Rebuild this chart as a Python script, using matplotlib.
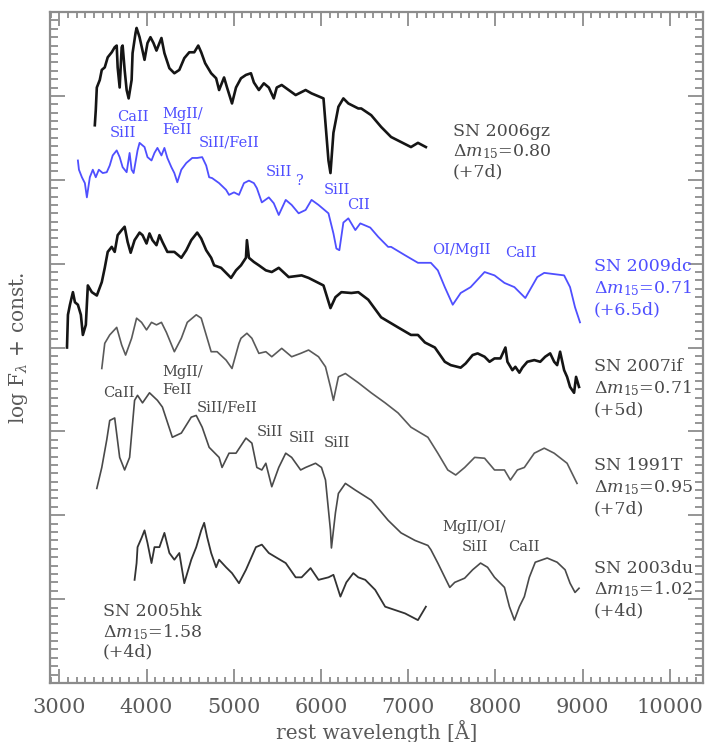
import numpy as np
import matplotlib
matplotlib.use("Agg")
from matplotlib import pyplot as plt
from matplotlib.ticker import MultipleLocator

plt.rcParams["font.family"] = ["DejaVu Serif"]
plt.rcParams["mathtext.fontset"] = "dejavuserif"

# rest wavelength [A] and log F + offset for each spectrum
wl_06gz = [3407, 3418, 3430, 3464, 3487, 3521, 3555, 3601, 3635, 3658, 3669, 3692, 3715, 3726,
           3749, 3772, 3795, 3829, 3840, 3874, 3886, 3920, 3954, 3977, 4011, 4045, 4080, 4114,
           4148, 4171, 4205, 4262, 4319, 4376, 4433, 4490, 4547, 4593, 4627, 4672, 4741, 4798,
           4832, 4889, 4923, 4980, 5026, 5083, 5140, 5197, 5231, 5288, 5345, 5402, 5459, 5493,
           5550, 5630, 5710, 5824, 5892, 6029, 6086, 6109, 6143, 6200, 6257, 6314, 6428, 6462,
           6576, 6690, 6804, 6918, 7032, 7112, 7203]
fl_06gz = [6.65, 6.83, 7.10, 7.19, 7.31, 7.34, 7.46, 7.52, 7.58, 7.60, 7.34, 7.10, 7.58, 7.60,
           7.31, 7.07, 6.97, 7.19, 7.51, 7.75, 7.81, 7.70, 7.54, 7.43, 7.63, 7.70, 7.63, 7.54,
           7.63, 7.69, 7.51, 7.33, 7.27, 7.31, 7.45, 7.52, 7.52, 7.60, 7.52, 7.39, 7.27, 7.21,
           7.07, 7.22, 7.10, 6.91, 7.10, 7.21, 7.25, 7.27, 7.16, 7.07, 7.15, 7.10, 6.97, 7.10,
           7.13, 7.07, 7.01, 7.07, 7.03, 6.97, 6.23, 6.08, 6.56, 6.87, 6.97, 6.91, 6.85, 6.85,
           6.77, 6.63, 6.51, 6.45, 6.39, 6.44, 6.39]

wl_09dc = [3213, 3225, 3259, 3293, 3316, 3350, 3384, 3418, 3453, 3498, 3544, 3578, 3612, 3658,
           3692, 3726, 3772, 3806, 3829, 3852, 3897, 3920, 3977, 4011, 4057, 4091, 4125, 4171,
           4205, 4239, 4285, 4319, 4353, 4399, 4456, 4524, 4581, 4638, 4684, 4718, 4752, 4832,
           4912, 4946, 5003, 5060, 5117, 5174, 5231, 5265, 5322, 5402, 5459, 5516, 5596, 5664,
           5744, 5824, 5892, 5972, 6086, 6143, 6177, 6211, 6257, 6314, 6394, 6451, 6565, 6656,
           6770, 6804, 6964, 7112, 7260, 7340, 7420, 7511, 7602, 7716, 7876, 7990, 8104, 8218,
           8343, 8480, 8560, 8788, 8856, 8913, 8970]
fl_09dc = [6.23, 6.12, 6.03, 5.96, 5.79, 6.03, 6.12, 6.03, 6.12, 6.08, 6.09, 6.17, 6.29, 6.35,
           6.27, 6.15, 6.09, 6.32, 6.12, 6.08, 6.35, 6.44, 6.39, 6.27, 6.23, 6.32, 6.38, 6.29,
           6.38, 6.26, 6.15, 6.08, 5.97, 6.12, 6.20, 6.26, 6.26, 6.27, 6.17, 6.03, 6.02, 5.96,
           5.88, 5.82, 5.85, 5.82, 5.96, 5.99, 5.96, 5.90, 5.73, 5.79, 5.72, 5.58, 5.76, 5.70,
           5.60, 5.64, 5.76, 5.70, 5.60, 5.36, 5.18, 5.16, 5.49, 5.54, 5.40, 5.48, 5.43, 5.32,
           5.20, 5.20, 5.10, 5.01, 5.01, 4.92, 4.72, 4.51, 4.65, 4.72, 4.90, 4.86, 4.77, 4.72,
           4.59, 4.84, 4.89, 4.86, 4.72, 4.48, 4.30]

wl_07if = [3088, 3099, 3122, 3156, 3179, 3213, 3247, 3270, 3304, 3327, 3373, 3430, 3487, 3521,
           3555, 3601, 3635, 3669, 3715, 3749, 3783, 3818, 3863, 3920, 3954, 4000, 4034, 4068,
           4114, 4148, 4182, 4239, 4319, 4399, 4456, 4513, 4581, 4627, 4684, 4741, 4775, 4855,
           4912, 4969, 5026, 5083, 5140, 5151, 5174, 5231, 5288, 5368, 5436, 5516, 5630, 5778,
           5858, 6029, 6109, 6166, 6234, 6348, 6428, 6542, 6690, 6884, 7032, 7112, 7192, 7306,
           7420, 7488, 7602, 7659, 7739, 7796, 7876, 7933, 7990, 8058, 8115, 8138, 8195, 8229,
           8275, 8309, 8366, 8446, 8514, 8571, 8628, 8674, 8708, 8742, 8788, 8822, 8856, 8902,
           8925, 8959]
fl_07if = [4.00, 4.39, 4.51, 4.66, 4.54, 4.51, 4.39, 4.15, 4.27, 4.74, 4.66, 4.62, 4.78, 4.95,
           5.14, 5.20, 5.14, 5.34, 5.40, 5.44, 5.26, 5.13, 5.28, 5.37, 5.34, 5.24, 5.36, 5.28,
           5.22, 5.34, 5.26, 5.14, 5.14, 5.07, 5.16, 5.28, 5.37, 5.30, 5.16, 5.07, 4.98, 4.95,
           4.89, 4.83, 4.92, 4.98, 5.07, 5.28, 5.07, 5.02, 4.98, 4.92, 4.90, 4.95, 4.84, 4.86,
           4.83, 4.74, 4.47, 4.60, 4.66, 4.65, 4.66, 4.57, 4.36, 4.24, 4.15, 4.15, 4.06, 4.00,
           3.83, 3.79, 3.76, 3.81, 3.91, 3.93, 3.89, 3.83, 3.87, 3.87, 4.00, 3.83, 3.73, 3.77,
           3.70, 3.76, 3.83, 3.85, 3.83, 3.89, 3.93, 3.83, 3.79, 3.95, 3.73, 3.65, 3.53, 3.46,
           3.65, 3.53]

wl_91T = [3487, 3521, 3578, 3658, 3715, 3760, 3829, 3886, 3943, 4000, 4057, 4114, 4171, 4228,
          4319, 4399, 4467, 4570, 4627, 4684, 4741, 4809, 4912, 4980, 5060, 5083, 5151, 5208,
          5288, 5368, 5436, 5550, 5664, 5767, 5858, 5972, 6052, 6109, 6143, 6200, 6280, 6428,
          6576, 6736, 6884, 7032, 7226, 7340, 7454, 7545, 7648, 7762, 7876, 7990, 8104, 8172,
          8252, 8332, 8446, 8560, 8674, 8822, 8936]
fl_91T = [3.75, 4.05, 4.15, 4.24, 4.03, 3.91, 4.11, 4.35, 4.30, 4.21, 4.30, 4.27, 4.30, 4.18,
          3.95, 4.11, 4.30, 4.39, 4.35, 4.15, 3.95, 3.95, 3.85, 3.75, 4.05, 4.11, 4.17, 4.11,
          3.93, 3.95, 3.89, 3.99, 3.89, 3.93, 3.97, 3.89, 3.77, 3.53, 3.37, 3.65, 3.69, 3.58,
          3.46, 3.34, 3.22, 3.05, 2.93, 2.74, 2.54, 2.48, 2.57, 2.69, 2.68, 2.54, 2.54, 2.42,
          2.54, 2.57, 2.74, 2.80, 2.74, 2.62, 2.38]

wl_03du = [3430, 3487, 3544, 3578, 3635, 3692, 3749, 3806, 3863, 3897, 3954, 4034, 4125, 4182,
           4296, 4399, 4513, 4570, 4638, 4718, 4832, 4866, 4946, 5026, 5140, 5208, 5265, 5322,
           5368, 5436, 5516, 5596, 5664, 5767, 5824, 5938, 6006, 6052, 6109, 6120, 6166, 6200,
           6280, 6394, 6576, 6770, 6918, 7078, 7226, 7260, 7340, 7420, 7477, 7534, 7648, 7739,
           7830, 7910, 7990, 8104, 8161, 8218, 8275, 8332, 8389, 8457, 8594, 8708, 8799, 8856,
           8913, 8959]
fl_03du = [2.32, 2.57, 2.90, 3.13, 3.16, 2.69, 2.54, 2.69, 3.37, 3.43, 3.34, 3.46, 3.37, 3.29,
           2.93, 2.98, 3.17, 3.19, 3.05, 2.81, 2.69, 2.57, 2.74, 2.74, 2.92, 2.86, 2.57, 2.54,
           2.62, 2.34, 2.57, 2.74, 2.69, 2.54, 2.57, 2.62, 2.57, 2.42, 1.82, 1.61, 2.03, 2.26,
           2.38, 2.30, 2.18, 1.94, 1.79, 1.70, 1.64, 1.59, 1.43, 1.26, 1.14, 1.20, 1.25, 1.35,
           1.43, 1.38, 1.26, 1.14, 0.91, 0.75, 0.91, 1.03, 1.26, 1.44, 1.49, 1.44, 1.35, 1.19,
           1.08, 1.13]

wl_05hk = [3863, 3886, 3897, 3943, 3977, 4011, 4057, 4091, 4148, 4205, 4262, 4319, 4376, 4433,
           4467, 4513, 4570, 4627, 4661, 4695, 4741, 4798, 4832, 4912, 4980, 5060, 5140, 5254,
           5322, 5402, 5482, 5596, 5710, 5778, 5881, 5972, 6086, 6143, 6223, 6291, 6371, 6428,
           6508, 6622, 6736, 6850, 6964, 7112, 7203]
fl_05hk = [1.23, 1.43, 1.62, 1.73, 1.82, 1.67, 1.43, 1.62, 1.62, 1.79, 1.55, 1.47, 1.55, 1.19,
           1.31, 1.47, 1.62, 1.82, 1.91, 1.74, 1.55, 1.38, 1.47, 1.38, 1.31, 1.19, 1.35, 1.62,
           1.65, 1.55, 1.50, 1.43, 1.26, 1.26, 1.37, 1.23, 1.26, 1.29, 1.03, 1.20, 1.31, 1.26,
           1.23, 1.11, 0.91, 0.87, 0.83, 0.75, 0.91]

sn_names = ["SN 2006gz", "SN 2009dc", "SN 2007if", "SN 1991T", "SN 2003du", "SN 2005hk"]
sn_dm15 = ["0.80", "0.71", "0.71", "0.95", "1.02", "1.58"]
sn_phase = ["(+7d)", "(+6.5d)", "(+5d)", "(+7d)", "(+4d)", "(+4d)"]

ids_09dc = ["CaII", "SiII", "MgII/", "FeII", "SiII/FeII", "SiII", "?", "SiII", "CII",
            "OI/MgII", "CaII"]
ids_91T = ["CaII", "MgII/", "FeII", "SiII/FeII", "SiII", "SiII", "SiII"]
ids_03du = ["MgII/OI/", "SiII", "CaII"]

blue = "#4f4fff"
grey_txt = "#4a4a4a"

fig = plt.figure(figsize=(7.11, 7.42), dpi=100)
ax = fig.add_axes([0.0703, 0.0795, 0.9184, 0.9043])

ax.plot(wl_06gz, fl_06gz, color="#151515", lw=1.9)
ax.plot(wl_09dc, fl_09dc, color=blue, lw=1.3)
ax.plot(wl_07if, fl_07if, color="#151515", lw=1.9)
ax.plot(wl_91T, fl_91T, color="#5a5a5a", lw=1.2)
ax.plot(wl_03du, fl_03du, color="#4a4a4a", lw=1.2)
ax.plot(wl_05hk, fl_05hk, color="#333333", lw=1.3)

# name / decline rate / phase blocks
label_xy = [(7510, 6.57), (9130, 4.96), (9130, 3.77), (9130, 2.59), (9130, 1.37), (3500, 0.85)]
for i, (x, y) in enumerate(label_xy):
    c = blue if i == 1 else grey_txt
    step = 0.24 if i in (0, 5) else 0.255
    ax.text(x, y, sn_names[i], color=c, fontsize=12.5, va="center", ha="left")
    ax.text(x, y - step, r"$\Delta m_{15}$=" + sn_dm15[i], color=c, fontsize=12.5,
            va="center", ha="left")
    ax.text(x, y - 2 * step, sn_phase[i], color=c, fontsize=12.5, va="center", ha="left")

# line identifications
pos_09dc = [(3840, 6.75, "center"), (3726, 6.56, "center"), (4182, 6.79, "left"),
            (4182, 6.59, "left"), (4604, 6.45, "left"), (5368, 6.09, "left"),
            (5744, 5.99, "center"), (6029, 5.88, "left"), (6303, 5.70, "left"),
            (7272, 5.16, "left"), (8115, 5.13, "left")]
for s, (x, y, ha) in zip(ids_09dc, pos_09dc):
    ax.text(x, y, s, color=blue, fontsize=10.5, ha=ha, va="center")

pos_91T = [(3498, 3.46), (4182, 3.71), (4182, 3.49), (4581, 3.29), (5265, 2.99),
           (5630, 2.92), (6029, 2.86)]
for s, (x, y) in zip(ids_91T, pos_91T):
    ax.text(x, y, s, color=grey_txt, fontsize=10.5, ha="left", va="center")

pos_03du = [(7760, 1.86), (7760, 1.62), (8330, 1.62)]
for s, (x, y) in zip(ids_03du, pos_03du):
    ax.text(x, y, s, color=grey_txt, fontsize=10.5, ha="center", va="center")

ax.set_xlim(2893, 10380)
ax.set_ylim(0, 8)
ax.xaxis.set_major_locator(MultipleLocator(1000))
ax.xaxis.set_minor_locator(MultipleLocator(100))
ax.yaxis.set_major_locator(MultipleLocator(1))
ax.yaxis.set_minor_locator(MultipleLocator(0.1))
ax.set_yticklabels([])

axis_grey = "#8c8c8c"
for sp in ax.spines.values():
    sp.set_color(axis_grey)
    sp.set_linewidth(1.6)
ax.tick_params(which="both", direction="in", top=True, right=True, color=axis_grey,
               labelcolor="#5a5a5a", labelsize=15, width=1.3)
ax.tick_params(axis="x", which="major", length=10, pad=11)
ax.tick_params(axis="x", which="minor", length=4)
ax.tick_params(axis="y", which="major", length=11)
ax.tick_params(axis="y", which="minor", length=6)

ax.set_xlabel("rest wavelength [Å]", fontsize=14.5, color="#5a5a5a", labelpad=2)
ax.set_ylabel(r"log F$_\lambda$ + const.", fontsize=14.5, color="#5a5a5a")
ax.yaxis.set_label_coords(-0.03, 0.5)

fig.savefig("out.png", dpi=100)
